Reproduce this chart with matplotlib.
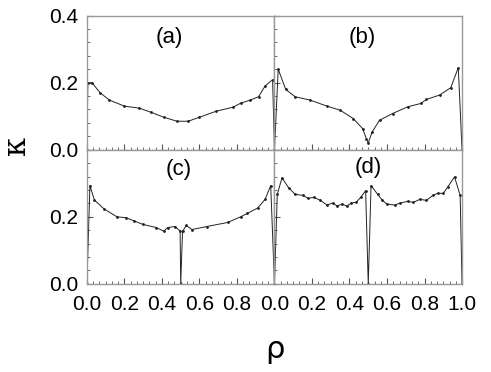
import matplotlib.pyplot as plt
from matplotlib.ticker import MultipleLocator, AutoMinorLocator
plt.rcParams.update({'font.size': 15, 'font.family': ['Liberation Sans', 'DejaVu Sans']})

# panel (a)
rho_a = [0.0, 0.005, 0.027, 0.07, 0.12, 0.2, 0.28, 0.34, 0.41, 0.48, 0.54, 0.6,
         0.69, 0.78, 0.82, 0.87, 0.915, 0.95, 0.99, 1.0]
kap_a = [0.0, 0.2, 0.2, 0.17, 0.148, 0.13, 0.124, 0.112, 0.097, 0.085, 0.085, 0.097,
         0.115, 0.127, 0.139, 0.148, 0.158, 0.19, 0.209, 0.0]

# panel (b)
rho_b = [0.0, 0.02, 0.06, 0.11, 0.19, 0.28, 0.35, 0.42, 0.47, 0.49, 0.5, 0.52,
         0.56, 0.63, 0.71, 0.78, 0.81, 0.88, 0.94, 0.98, 1.0]
kap_b = [0.0, 0.24, 0.18, 0.158, 0.148, 0.13, 0.118, 0.093, 0.063, 0.033, 0.02, 0.052,
         0.088, 0.108, 0.128, 0.138, 0.15, 0.163, 0.185, 0.245, 0.0]

# panel (c)
rho_c = [0.0, 0.016, 0.04, 0.09, 0.16, 0.21, 0.25, 0.3, 0.37, 0.41, 0.43, 0.47,
         0.497, 0.5, 0.51, 0.53, 0.56, 0.64, 0.75, 0.82, 0.855, 0.91, 0.95, 0.98, 1.0]
kap_c = [0.0, 0.293, 0.25, 0.224, 0.2, 0.197, 0.188, 0.177, 0.168, 0.157, 0.168, 0.171,
         0.157, 0.0, 0.157, 0.174, 0.162, 0.171, 0.183, 0.2, 0.21, 0.226, 0.252, 0.293, 0.0]

# panel (d)
rho_d = [0.0, 0.015, 0.04, 0.075, 0.11, 0.15, 0.18, 0.21, 0.245, 0.28, 0.31, 0.335,
         0.36, 0.385, 0.41, 0.435, 0.46, 0.486, 0.5, 0.515, 0.55, 0.575, 0.6, 0.64,
         0.67, 0.71, 0.74, 0.775, 0.81, 0.845, 0.87, 0.9, 0.925, 0.96, 0.99, 1.0]
kap_d = [0.0, 0.267, 0.316, 0.287, 0.267, 0.264, 0.255, 0.258, 0.249, 0.235, 0.241, 0.232,
         0.238, 0.232, 0.241, 0.243, 0.258, 0.278, 0.0, 0.293, 0.267, 0.249, 0.238, 0.235,
         0.241, 0.246, 0.243, 0.252, 0.249, 0.264, 0.27, 0.27, 0.29, 0.319, 0.264, 0.0]

panels = [('(a)', rho_a, kap_a, 0.44, 0.84),
          ('(b)', rho_b, kap_b, 0.47, 0.84),
          ('(c)', rho_c, kap_c, 0.49, 0.85),
          ('(d)', rho_d, kap_d, 0.50, 0.87)]

fig, axes = plt.subplots(2, 2, figsize=(4.91, 3.72), dpi=100)
fig.subplots_adjust(left=0.177, right=0.941, top=0.958, bottom=0.237, wspace=0, hspace=0)

for ax, (lab, x, y, tx, ty) in zip(axes.flat, panels):
    ax.plot(x, y, color='#222222', linewidth=0.7, marker='.', markersize=2)
    ax.set_xlim(0, 1)
    ax.set_ylim(0, 0.4)
    ax.text(tx, ty, lab, transform=ax.transAxes, ha='center', va='center', fontsize=16)
    ax.xaxis.set_major_locator(MultipleLocator(0.2))
    ax.xaxis.set_minor_locator(AutoMinorLocator(6))
    ax.yaxis.set_major_locator(MultipleLocator(0.2))
    ax.yaxis.set_minor_locator(AutoMinorLocator(5))
    ax.tick_params(which='both', direction='in', colors='#555555', labelcolor='black',
                   top=False, right=False)
    ax.tick_params(which='major', length=4, width=0.8)
    ax.tick_params(which='minor', length=2, width=0.6)
    for s in ax.spines.values():
        s.set_color('#999999')
        s.set_linewidth(1.0)

# tick labels like the original
axes[0, 0].set_xticklabels([])
axes[0, 1].set_xticklabels([])
axes[0, 1].set_yticklabels([])
axes[1, 1].set_yticklabels([])
axes[0, 0].set_yticks([0.0, 0.2, 0.4])
axes[0, 0].set_yticklabels(['0.0', '0.2', '0.4'])
axes[1, 0].set_yticks([0.0, 0.2, 0.4])
axes[1, 0].set_yticklabels(['0.0', '0.2', ''])
axes[1, 0].set_xticks([0.0, 0.2, 0.4, 0.6, 0.8, 1.0])
axes[1, 0].set_xticklabels(['0.0', '0.2', '0.4', '0.6', '0.8', ''])
axes[1, 1].set_xticks([0.0, 0.2, 0.4, 0.6, 0.8, 1.0])
axes[1, 1].set_xticklabels(['0.0', '0.2', '0.4', '0.6', '0.8', '1.0'])
for ax in axes.flat:
    ax.tick_params(axis='y', pad=6)
    ax.tick_params(axis='x', pad=8)

fig.text(0.033, 0.61, 'κ', rotation=90, ha='center', va='center', fontsize=22,
         family=['DejaVu Serif'])
fig.text(0.56, 0.06, 'ρ', ha='center', va='center', fontsize=22, family=['DejaVu Sans'])

plt.savefig('out.png', dpi=100)
